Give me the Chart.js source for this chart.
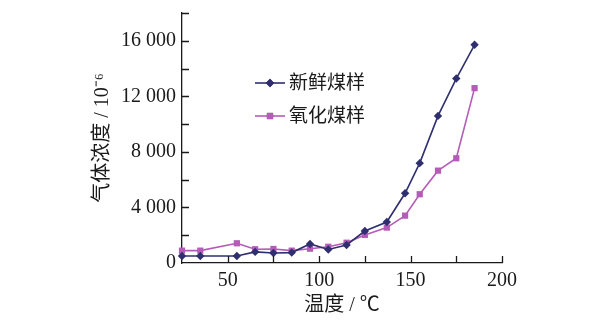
<!DOCTYPE html>
<html>
<head>
<meta charset="utf-8">
<script src="https://cdn.jsdelivr.net/npm/chart.js@4"></script>
<style>
    body { margin: 0; background: #fff; }
    #wrap { width: 600px; height: 320px; }
</style>
</head>
<body>
<div id="wrap"><canvas id="gas_chart" width="600" height="320"></canvas></div>
<script>
// temperature (deg C) and gas concentration (10^-6)
const temps = [25, 35, 55, 65, 75, 85, 95, 105, 115, 125, 137, 147, 155, 165, 175, 185];
const fresh_vals = [500, 500, 500, 800, 720, 750, 1370, 970, 1300, 2300, 2950, 5020, 7190, 10590, 13280, 15710];
const oxid_vals = [890, 890, 1420, 990, 1010, 890, 1030, 1170, 1460, 2020, 2550, 3410, 4950, 6650, 7540, 12590];
const series_names = ["新鲜煤样", "氧化煤样"];
const x_label_vals = [50, 100, 150, 200];
const y_label_vals = [0, 4000, 8000, 12000, 16000];

const NAVY = "#2f2f70";
const MAGENTA = "#b45cb8";
const TEXT = "#1a1a1a";
const SERIF = '"Liberation Serif", "Noto Sans CJK SC", serif';

function to_points(xs, ys) {
    return xs.map( function (x, i) { return { x: x, y: ys[i] }; } );
}

function fmt_thousands(v) {
    if( v < 1000 ) { return String(v); }
    return Math.floor(v / 1000) + " " + String(v % 1000).padStart(3, "0");
}

// short inward ticks on both axes
const inner_ticks = {
    id: "inner_ticks",
    afterDraw(chart) {
        const ctx = chart.ctx;
        const xs = chart.scales.x;
        const ys = chart.scales.y;
        const area = chart.chartArea;
        ctx.save();
        ctx.strokeStyle = TEXT;
        ctx.lineWidth = 1.3;
        ctx.beginPath();
        xs.ticks.forEach( function (t) {
            if( t.value <= xs.min ) { return; }
            const px = Math.round(xs.getPixelForValue(t.value)) + 0.5;
            ctx.moveTo(px, area.bottom);
            ctx.lineTo(px, area.bottom - 7);
        });
        ys.ticks.forEach( function (t) {
            if( t.value <= ys.min ) { return; }
            const py = Math.round(ys.getPixelForValue(t.value)) + 0.5;
            ctx.moveTo(area.left, py);
            ctx.lineTo(area.left + 7, py);
        });
        ctx.stroke();
        ctx.restore();
    }
};

// legend with a line through the marker, placed inside the plot
const line_legend = {
    id: "line_legend",
    afterDraw(chart, args, opts) {
        const ctx = chart.ctx;
        ctx.save();
        chart.data.datasets.forEach( function (ds, i) {
            const y = opts.y + i * opts.row_gap;
            ctx.strokeStyle = ds.borderColor;
            ctx.lineWidth = ds.borderWidth;
            ctx.beginPath();
            ctx.moveTo(opts.x, y);
            ctx.lineTo(opts.x + opts.line_len, y);
            ctx.stroke();
            Chart.helpers.drawPoint(ctx, {
                pointStyle: ds.pointStyle,
                radius: ds.pointRadius,
                borderWidth: 0,
                rotation: 0
            }, opts.x + opts.line_len / 2, y);
            ctx.fillStyle = ds.pointBackgroundColor;
            ctx.fill();
            ctx.fillStyle = TEXT;
            ctx.font = opts.font;
            ctx.textBaseline = "middle";
            ctx.textAlign = "left";
            ctx.fillText(ds.label, opts.x + opts.line_len + 4, y + 1);
        });
        ctx.restore();
    }
};

const gas_chart = new Chart(
    document.getElementById("gas_chart"),
    {
        type: "line",
        data: {
            datasets: [
                {
                    label: series_names[0],
                    data: to_points(temps, fresh_vals),
                    borderColor: NAVY,
                    backgroundColor: NAVY,
                    pointBackgroundColor: NAVY,
                    pointBorderColor: NAVY,
                    pointStyle: "rectRot",
                    pointRadius: 4.2,
                    pointBorderWidth: 0,
                    borderWidth: 1.6,
                    tension: 0,
                    clip: false
                },
                {
                    label: series_names[1],
                    data: to_points(temps, oxid_vals),
                    borderColor: MAGENTA,
                    backgroundColor: MAGENTA,
                    pointBackgroundColor: MAGENTA,
                    pointBorderColor: MAGENTA,
                    pointStyle: "rect",
                    pointRadius: 4.4,
                    pointBorderWidth: 0,
                    borderWidth: 1.6,
                    tension: 0,
                    clip: false
                }
            ]
        },
        options: {
            responsive: false,
            animation: false,
            devicePixelRatio: 1,
            layout: { padding: { left: 91, top: 13, right: 98, bottom: 1 } },
            plugins: {
                legend: { display: false },
                tooltip: { enabled: false },
                line_legend: {
                    x: 255, y: 83, row_gap: 33, line_len: 30,
                    font: '19px "Liberation Serif", "Noto Sans CJK SC", serif'
                }
            },
            scales: {
                x: {
                    type: "linear",
                    min: 25,
                    max: 200,
                    afterFit: function (scale) { scale.height = 56; },
                    grid: { display: false, drawTicks: false },
                    border: { display: true, color: TEXT, width: 1.3 },
                    ticks: {
                        stepSize: 25,
                        padding: 6,
                        maxRotation: 0,
                        autoSkip: false,
                        color: TEXT,
                        font: { family: SERIF, size: 20 },
                        callback: function (v) { return x_label_vals.includes(v) ? String(v) : ""; }
                    },
                    title: {
                        display: true,
                        text: "温度 / ℃",
                        color: TEXT,
                        padding: { top: 0, bottom: 1 },
                        font: { family: SERIF, size: 20 }
                    }
                },
                y: {
                    min: 0,
                    max: 18000,
                    afterFit: function (scale) {
                        scale.width = 91;
                        scale.paddingTop = 0;
                        scale.paddingBottom = 0;
                    },
                    grid: { display: false, drawTicks: false },
                    border: { display: true, color: TEXT, width: 1.3 },
                    ticks: {
                        stepSize: 2000,
                        padding: 6,
                        autoSkip: false,
                        color: TEXT,
                        font: { family: SERIF, size: 20 },
                        callback: function (v) { return y_label_vals.includes(v) ? fmt_thousands(v) : ""; }
                    },
                    title: {
                        display: true,
                        text: "气体浓度 / 10⁻⁶",
                        color: TEXT,
                        padding: { top: 0, bottom: 0 },
                        font: { family: SERIF, size: 20 }
                    }
                }
            }
        },
        plugins: [inner_ticks, line_legend]
    }
);
</script>
</body>
</html>
